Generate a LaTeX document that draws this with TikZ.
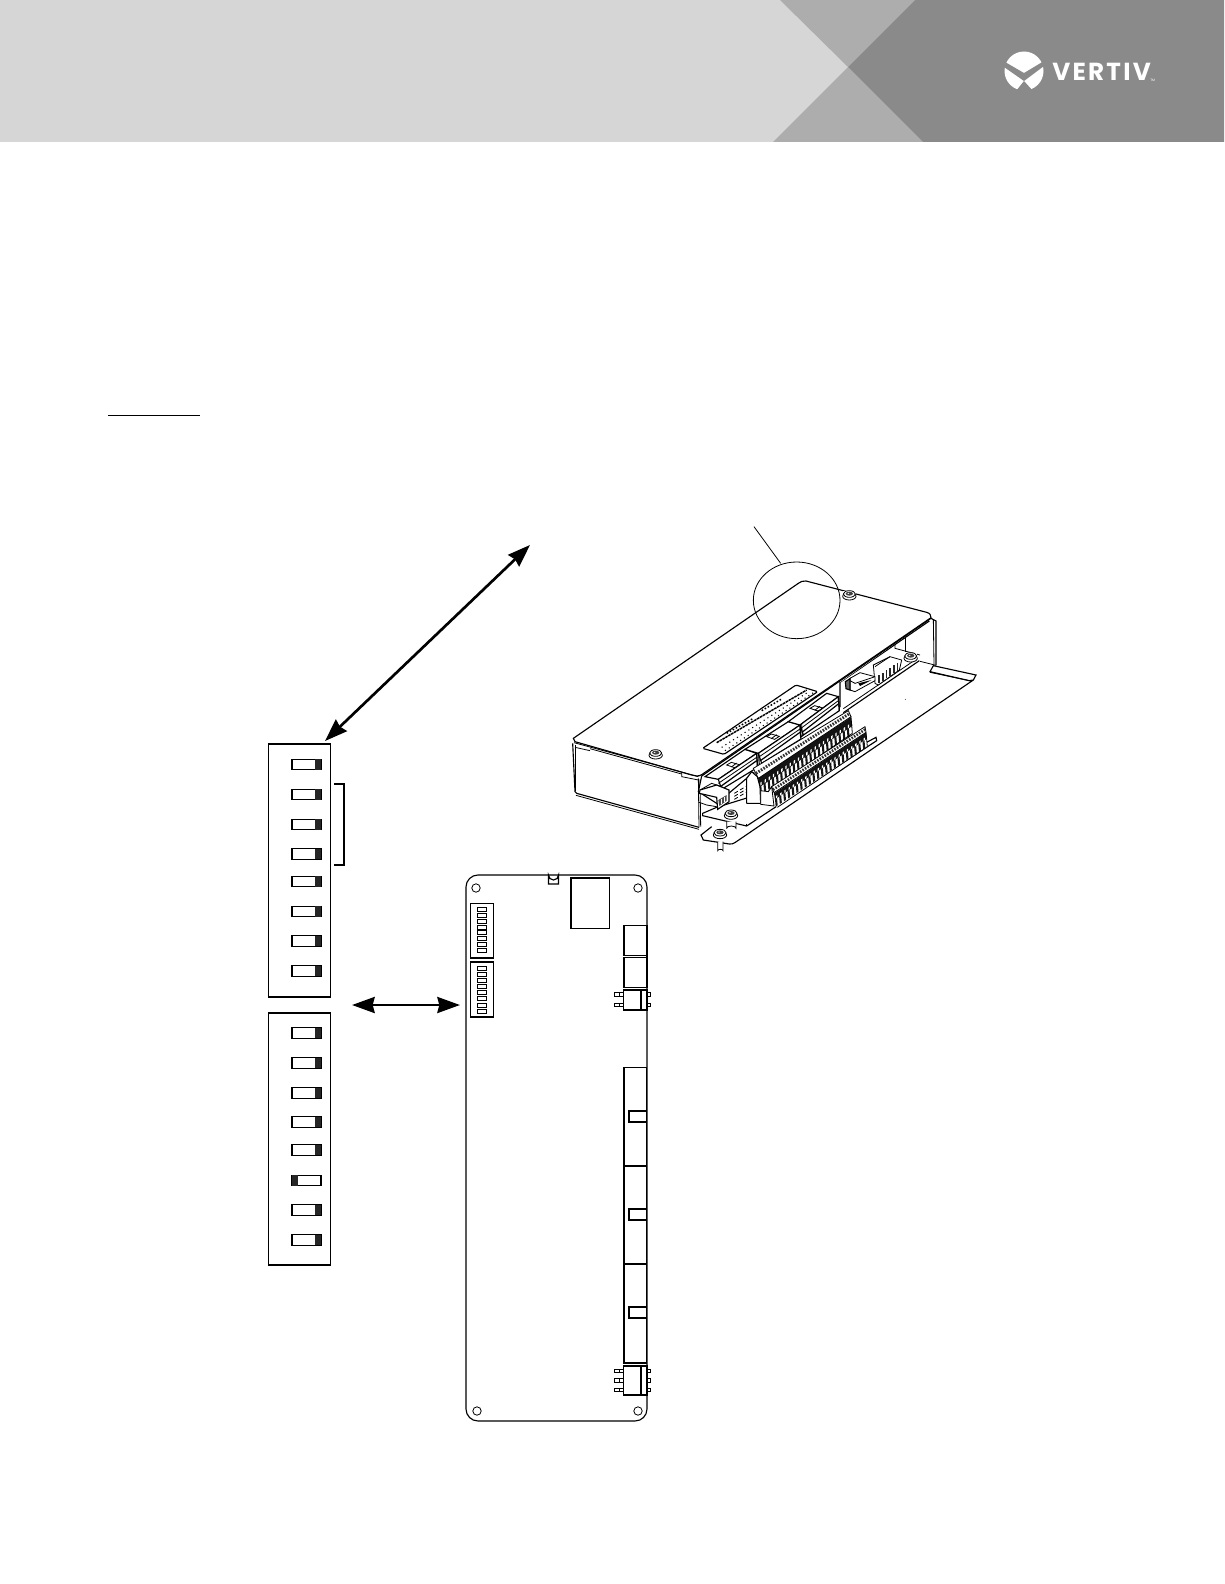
\documentclass[tikz,border=0pt]{standalone}
\usepackage{fontspec}
\newfontfamily\logofont{Poppins}
\usetikzlibrary{arrows.meta}
\tikzset{
  ln/.style={line width=0.85pt,draw=black},
  fn/.style={line width=0.6pt,draw=black},
  wf/.style={fill=white},
  bigarrow/.style={line width=2pt,{Stealth[length=17pt,width=12pt,inset=1.5pt]}-{Stealth[length=17pt,width=12pt,inset=1.5pt]}},
  swbox/.style={draw=black,line width=0.85pt,fill=white,minimum width=29*0.75pt,minimum height=10.5*0.75pt,inner sep=0pt,outer sep=0pt},
  panel/.style={draw=black,line width=0.85pt,inner sep=0pt,minimum width=62.5*0.75pt}
}
\newcommand{\myscrew}[2]{%
  \fill[white] (#1-20,#2-10) rectangle (#1+20,#2+12);
  \draw[fn,fill=white] (#1,#2+7) ellipse (20 and 11);
  \draw[fn,fill=white] (#1,#2) ellipse (18 and 10);
  \fill[black!75] (#1,#2-1) ellipse (11 and 6);
  \fill[white] (#1-3,#2-2) ellipse (3 and 1.5);
}
\begin{document}
\begin{tikzpicture}[x=0.75pt,y=-0.75pt]
\useasboundingbox (0,0) rectangle (1224,1584);
% header
\fill[black!16] (0,0) rectangle (1224,142);
\fill[black!32] (780,0) -- (915,0) -- (848,67) -- cycle;
\fill[black!32] (773,142) -- (848,67) -- (923,142) -- cycle;
\fill[black!46] (915,0) -- (1224,0) -- (1224,142) -- (923,142) -- (848,67) -- cycle;
% logo
\fill[white] (1024,71) circle (19.5);
\fill[black!46] (1005,62) -- (1024,73) -- (1044,61) -- (1044,66) -- (1024,81) -- (1004,67) -- cycle;
\fill[black!46] (1016,91) -- (1024,81) -- (1033,91) -- cycle;
\node[text=white,inner sep=0pt,anchor=west] (logotext) at (1052,71.5) {\logofont\bfseries\fontsize{18.5}{20}\selectfont V\kern1.7pt E\kern1.7pt R\kern1.7pt T\kern1.7pt I\kern1.7pt V};
\node[text=white,inner sep=0pt,anchor=west] (logotm) at (1150,80) {\logofont\fontsize{2.5}{3}\selectfont TM};
% underline
\draw[line width=1.1pt] (108,415.5) -- (200,415.5);
% switch panels
\node[panel,minimum height=253*0.75pt] (panelA) at (299.5,870.5) {};
\node[panel,minimum height=252*0.75pt] (panelB) at (299.5,1139) {};
\foreach \yy in {764.5,794.5,824.5,854,881.5,911.5,941,971,1033,1063,1093,1122,1150,1210,1240}{
  \node[swbox] at (306.5,\yy) {};
  \fill[black!85] (315,\yy-5.2) rectangle (321,\yy+5.2);
}
\node[swbox] (swflip) at (306.5,1180.5) {};
\fill[black!85] (292,1175.3) rectangle (298,1185.7);
% bracket
\draw[ln] (334,784) -- (344,784) -- (344,865) -- (334,865);
% arrows
\coordinate (arrAa) at (325,741);
\coordinate (arrAb) at (530,545);
\coordinate (arrBa) at (352,1005);
\coordinate (arrBb) at (460,1005);
\draw[bigarrow] (arrAa) -- (arrAb);
\draw[bigarrow] (arrBa) -- (arrBb);
% board
\draw[ln,rounded corners=9pt] (466,875) rectangle (647,1421);
\draw[fn,fill=white] (476,888) circle (4.2);
\draw[fn,fill=white] (638,888) circle (4.2);
\draw[fn,fill=white] (477,1411) circle (4.2);
\draw[fn,fill=white] (638,1411) circle (4.2);
% LED
\draw[ln,fill=white] (548.5,884) -- (548.5,875) arc (180:0:5 and 5) -- (558.5,884) -- cycle;
\draw[ln] (571,878) rectangle (609.5,928.5);
% DIP
\draw[ln] (470.5,903.5) rectangle (493.5,958);
\draw[ln] (470.5,962) rectangle (493.5,1017);
\foreach \yy in {909.5,915.5,921.5,927,932.5,938.5,944.5,950.5,968.5,974.5,980.5,986.5,992.5,998.5,1005,1011}{
  \draw[fn] (477.5,\yy-2) rectangle (486.5,\yy+2);
}
% right connectors
\draw[ln] (624,925.5) rectangle (646.5,955.5);
\draw[ln] (624,957.5) rectangle (646.5,987.5);
\draw[line width=1pt] (647,925) -- (647,988);
% small switch top
\foreach \yy in {994.5,1005}{
  \draw[fn] (614.5,\yy-1.8) rectangle (623,\yy+1.8);
  \draw[fn] (619,\yy-1.8) -- (619,\yy+1.8);
  \draw[fn] (647,\yy-1.8) rectangle (650,\yy+1.8);
}
\draw[ln,fill=white] (623.5,990) rectangle (647,1010);
\draw[ln] (641,990) -- (641,1010);
% terminal blocks
\foreach \ya/\yb in {1067.5/1166,1166/1264,1264/1363}{
  \draw[ln] (624,\ya) rectangle (646.5,\yb);
}
\foreach \yy in {1111,1209,1307}{
  \draw[ln] (629,\yy) rectangle (646.5,\yy+11);
}
% bottom switch
\foreach \yy in {1371,1380.5,1390}{
  \draw[fn] (614.5,\yy-1.8) rectangle (623,\yy+1.8);
  \draw[fn] (619,\yy-1.8) -- (619,\yy+1.8);
  \draw[fn] (647,\yy-1.8) rectangle (650,\yy+1.8);
}
\draw[ln,fill=white] (623.5,1366) rectangle (647,1395);
\draw[ln] (641,1366) -- (641,1395);
% ============ isometric unit ==============
\begin{scope}[shift={(550,520)},x=0.25pt,y=-0.25pt]
% base plate
\draw[ln,fill=white] (485,920) -- (453,945) -- (460,960) -- (538,972) .. controls (545,973) and (550,971) .. (556,967)
  -- (1270,480) -- (1278,465) -- (1150,437) -- (1140,455) -- (1258,482) -- (1270,480);
\draw[fn] (1258,482) -- (1140,457);
% right wall
\draw[ln] (1143,295) -- (1158,303) -- (1158,436);
\draw[fn] (1150,300) -- (1152,434);
\draw[fn] (1158,436) -- (1110,424);
% inner verticals
\draw[fn] (1035,360) -- (1035,385) -- (1110,405);
\draw[fn] (1065,345) -- (1065,395);
% rail
\draw[ln] (1108,422) -- (880,578);
\draw[fn] (1098,418) -- (880,566);
% connector on the rail
\draw[fn,fill=white] (970,435) -- (1020,410) -- (1055,420) -- (1048,450) -- (985,495) -- (975,490) -- cycle;
\draw[fn] (1020,410) -- (975,440);
\foreach \t in {0,1,...,5}{
  \fill[black!85] ({985+\t*11},{465-\t*7.5}) rectangle ++(5,24);
}
\draw[fn,fill=white] (900,475) -- (930,458) -- (975,470) -- (975,482) -- (915,515) -- (900,510) -- cycle;
\draw[fn] (900,482) -- (915,490) -- (975,470);
\draw[ln,fill=black!60] (886,485) -- (900,476) -- (900,510) -- (888,506) -- cycle;
\fill (925,490) -- (965,480) -- (930,498) -- cycle;
% second line under cover
\draw[ln] (1138,303) -- (870,487);
% PCB plate end (with terminals)
\draw[ln,fill=white] (500,862) -- (458,880) -- (458,887) -- (590,918) -- (980,662) -- (978,652) -- (700,800) -- cycle;
\draw[fn] (590,911) -- (590,918);
% pillar
\draw[fn,fill=white] (530,905) -- (530,925) arc (180:360:14 and 7) -- (558,905);
% left wall
\draw[ln] (68,670) -- (75,815) -- (80,820) -- (447,922);
\draw[fn] (78,826) -- (447,928);
\draw[fn] (445,775) -- (447,922);
\draw[fn] (450,778) -- (452,920);
\draw[fn] (75,675) -- (75,812);
\draw[fn] (75,682) -- (120,692);
\draw[fn] (120,686) -- (395,762);
\draw[fn] (395,755) -- (395,770) -- (445,780);
% pin
\draw[fn,fill=white] (503,965) -- (503,992) arc (180:360:8 and 4) -- (519,965);
% Blocks backdrop
\draw[ln,fill=white] (1143,295) -- (455,768) -- (445,815) -- (500,850) -- (590,775) -- (870,560) -- (870,487);
% cover top
\draw[ln,fill=white] (70,655) -- (745,190) .. controls (752,185) and (758,182) .. (768,183) -- (1130,277) .. controls (1140,280) and (1143,285) .. (1143,293) -- (455,764) .. controls (445,770) and (435,768) .. (425,765) -- (75,665) -- cycle;
\draw[fn] (72,668) -- (395,756) -- (445,770);
% blocks
\foreach \ax/\ay/\bx/\by/\cx/\cy/\dx/\dy in {585/688/620/700/505/778/465/770, 715/605/750/615/625/700/585/688, 830/520/865/530/750/615/715/605}{
  \draw[ln,fill=white] (\ax,\ay) -- (\bx,\by) -- (\cx,\cy) -- (\dx,\dy) -- cycle;
  \draw[ln,fill=white] (\bx,\by) -- (\bx+3,\by+42) -- (\cx+10,\cy+30) -- (\cx,\cy) -- cycle;
  \draw[fn] (\bx,\by+12) -- (\cx,\cy+12);
  \draw[line width=0.9pt] (\bx,\by+22) -- (\cx+6,\cy+22);
}
\draw[ln] (620,700) -- (622,745);
\draw[ln] (626,700) -- (628,740);
\draw[ln] (750,615) -- (752,655);
\draw[fn] (755,612) -- (757,650);
\draw[ln] (865,530) -- (868,572);
\foreach \tx/\ty in {530/735,650/650,780/565}{
  \draw[fn,fill=white] (\tx,\ty) -- (\tx+14,\ty-8) -- (\tx+38,\ty-1) -- (\tx+24,\ty+8) -- cycle;
  \draw[fn] (\tx+14,\ty+6) -- (\tx+30,\ty-6);
}
% label plate
\draw[ln,fill=white,rounded corners=1pt] (458,685) -- (738,495) -- (803,515) -- (522,703) -- cycle;
\draw[line width=1.1pt,dash pattern=on 2pt off 0.5pt] (500,668) -- (770,510);
\draw[line width=0.8pt,dash pattern=on 0.8pt off 2.6pt] (525,692) -- (790,518);
\draw[line width=0.8pt,dash pattern=on 0.8pt off 2.6pt] (515,682) -- (775,516);
\draw[line width=1.1pt,dash pattern=on 1.2pt off 1.4pt] (530,640) -- (610,595);
\draw[line width=1.1pt,dash pattern=on 1.2pt off 1.4pt] (635,572) -- (695,537);
% upper terminal row
\fill[white] (610,745) -- (895,572) -- (905,640) -- (632,828) -- cycle;
\fill[black!92] (625,775) -- (902,592) -- (907,618) -- (629,801) -- cycle;
\foreach \t in {0,1,...,21}{
  \fill[white] ({631+\t*12.5},{788-\t*8.2}) -- ++(4,-3) -- ++(0,9) -- ++(-4,3) -- cycle;
  \fill[black!92] ({628+\t*12.5},{801-\t*8.2}) -- ++(6,-4) -- ++(2,24) -- ++(-6,4) -- cycle;
}
\draw[fn] (610,745) -- (895,572) -- (903,590) -- (625,775) -- cycle;
\draw[line width=2.2pt,black!80,dash pattern=on 1.2pt off 1pt] (618,760) -- (898,581);
\draw[fn] (903,590) -- (907,640);
\draw[fn] (632,830) -- (907,640);
% lower terminal row
\fill[white] (665,800) -- (945,620) -- (952,680) -- (682,862) -- (668,850) -- cycle;
\fill[black!92] (672,820) -- (948,638) -- (951,656) -- (675,838) -- cycle;
\foreach \t in {0,1,...,21}{
  \fill[white] ({678+\t*12.5},{828-\t*8.2}) -- ++(4,-3) -- ++(0,7) -- ++(-4,3) -- cycle;
  \fill[black!92] ({675+\t*12.5},{838-\t*8.2}) -- ++(6,-4) -- ++(2,22) -- ++(-6,4) -- cycle;
}
\draw[fn] (665,800) -- (945,620) -- (948,637) -- (672,818) -- cycle;
\draw[line width=2pt,black!80,dash pattern=on 1.2pt off 1pt] (669,809) -- (946,628);
\draw[fn] (948,637) -- (952,680) -- (682,862);
% terminal left end
\draw[ln,fill=white] (590,850) -- (590,775) -- (605,755) -- (622,770) -- (630,800) -- (632,850) -- (590,850);
\draw[fn,fill=white] (632,812) -- (655,815) -- (665,800) -- (672,858) -- (632,853) -- cycle;
% lower-left connector
\draw[fn,fill=white] (450,810) -- (485,790) -- (515,800) -- (480,820) -- cycle;
\draw[ln,fill=white] (500,795) -- (537,810) -- (537,845) -- (503,868) -- (500,832) -- (448,820) -- (450,810) -- cycle;
\fill[black!70] (505,840) -- (530,825) -- (530,842) -- (508,858) -- cycle;
\fill[white] (513,838) rectangle ++(3,14);
\fill[white] (521,832) rectangle ++(3,14);
\draw[fn] (445,846) -- (470,855) -- (500,860);
\foreach \dy in {0,9,18}{
  \draw[fn,densely dashed] (553,{820+\dy}) -- (590,{798+\dy});
}
% screws
\myscrew{898}{222}
\myscrew{317}{699}
\myscrew{1082}{408}
\myscrew{543}{880}
\myscrew{510}{938}
% stray dot
\fill (1066,538) circle (1.4);
% leader and circle
\coordinate (leadEnd) at (612,20);
\draw[fn] (leadEnd) -- (692,130);
\draw[fn] (740,241) ellipse (130 and 115);
\end{scope}
\end{tikzpicture}
\end{document}
